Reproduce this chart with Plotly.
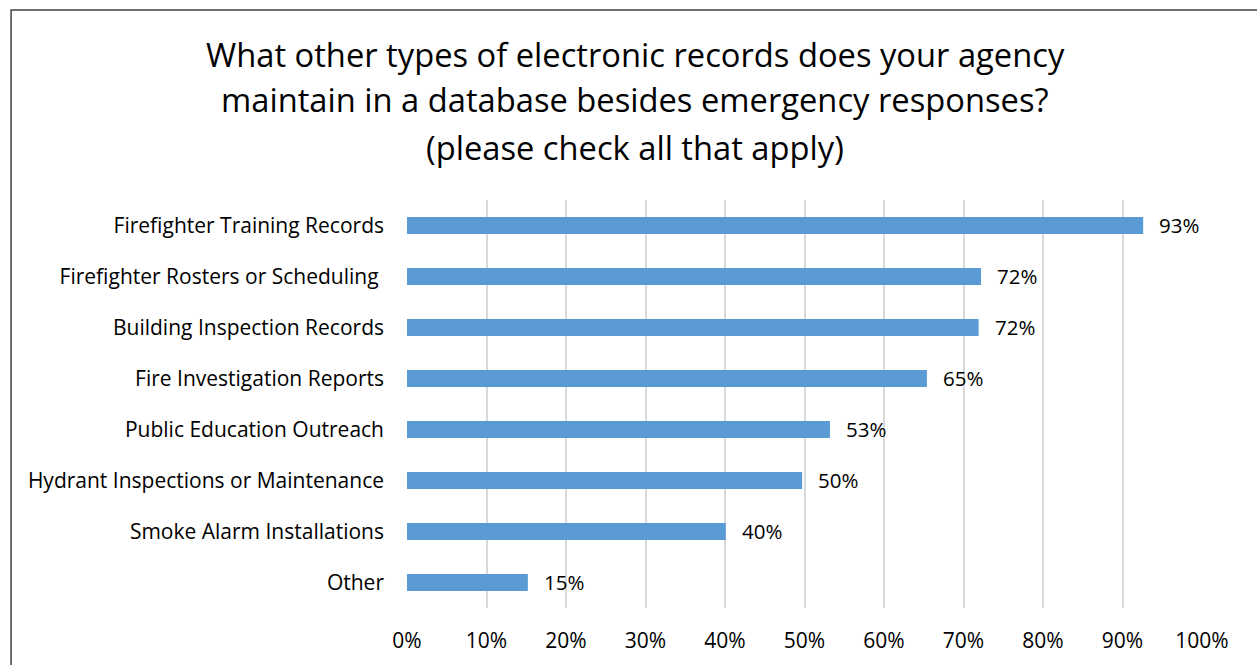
import plotly.graph_objects as go

categories = [
    "Firefighter Training Records",
    "Firefighter Rosters or Scheduling ",
    "Building Inspection Records",
    "Fire Investigation Reports",
    "Public Education Outreach",
    "Hydrant Inspections or Maintenance",
    "Smoke Alarm Installations",
    "Other",
]
values = [0.926, 0.722, 0.719, 0.654, 0.532, 0.497, 0.401, 0.152]
x_ticks = [0, 0.1, 0.2, 0.3, 0.4, 0.5, 0.6, 0.7, 0.8, 0.9, 1.0]
x_tick_labels = ["0%", "10%", "20%", "30%", "40%", "50%", "60%", "70%", "80%", "90%", "100%"]
title_lines = [
    "What other types of electronic records does your agency",
    "maintain in a database besides emergency responses?",
    "(please check all that apply)",
]

FONT = "Open Sans, sans-serif"

fig = go.Figure()
fig.add_trace(go.Bar(
    x=values,
    y=categories,
    orientation="h",
    marker=dict(color="#5B9BD5", line=dict(width=0)),
    hoverinfo="skip",
))

for v, c in zip(values, categories):
    fig.add_annotation(
        x=v, y=c, xref="x", yref="y",
        text=f"{round(v * 100)}%",
        showarrow=False, xanchor="left", xshift=14, yshift=1,
        font=dict(family=FONT, size=20.5, color="#000000"),
    )

title_y = [1.3554, 1.2451, 1.1299]
for line, ty in zip(title_lines, title_y):
    fig.add_annotation(
        x=0.287, y=ty, xref="paper", yref="paper",
        text=line,
        showarrow=False, xanchor="center", yanchor="middle",
        font=dict(family=FONT, size=32.7, color="#000000"),
    )

fig.add_shape(
    type="rect", xref="paper", yref="paper",
    x0=-0.498, x1=1.2, y0=-0.3, y1=1.4657,
    line=dict(color="#404040", width=1.5), fillcolor="rgba(0,0,0,0)",
    layer="below",
)

fig.update_layout(
    width=1257, height=665,
    margin=dict(l=407, r=55, t=200, b=57),
    paper_bgcolor="white", plot_bgcolor="white",
    bargap=0.67,
    showlegend=False,
    font=dict(family=FONT, size=21, color="#000000"),
    xaxis=dict(
        range=[0, 1.0], tickvals=x_ticks, ticktext=x_tick_labels,
        showgrid=True, gridcolor="#D9D9D9", gridwidth=1.5,
        zeroline=False, showline=False, ticks="",
        ticklabelstandoff=18,
        tickfont=dict(family=FONT, size=21, color="#000000"),
        fixedrange=True,
    ),
    yaxis=dict(
        categoryorder="array", categoryarray=categories[::-1],
        showgrid=False, zeroline=False, showline=False, ticks="",
        ticklabelstandoff=22,
        tickfont=dict(family=FONT, size=21, color="#000000"),
        fixedrange=True,
    ),
)

fig.write_html("out.html")
